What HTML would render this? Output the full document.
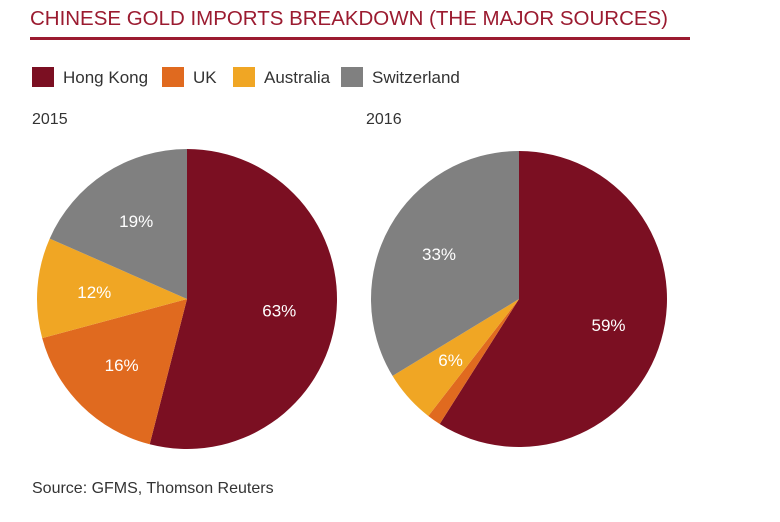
<!DOCTYPE html>
<html><head><meta charset="utf-8"><style>
body{margin:0;background:#fff;}
svg{display:block;font-family:"Liberation Sans",sans-serif;}
</style></head><body>
<svg id="chart" width="780" height="522" viewBox="0 0 780 522">
<text x="30" y="25" font-size="20" fill="#9b1b30" textLength="638" lengthAdjust="spacingAndGlyphs">CHINESE GOLD IMPORTS BREAKDOWN (THE MAJOR SOURCES)</text>
<rect x="30" y="37" width="660" height="3" fill="#9b1b30"/>
<g id="legend"></g>
<text x="32" y="124" font-size="16" fill="#333">2015</text>
<text x="366" y="124" font-size="16" fill="#333">2016</text>
<g id="pies"></g>
<text x="32" y="493" font-size="16" fill="#333">Source: GFMS, Thomson Reuters</text>
</svg>
<script>
const categories = ["Hong Kong","UK","Australia","Switzerland"];
const colors = ["#7b0f22","#e06a1f","#f0a624","#808080"];
const values2015 = [54, 16.8, 10.8, 18.4];
const values2016 = [59, 1.5, 5.8, 33.7];
const labels2015 = ["63%","16%","12%","19%"];
const labels2016 = ["59%","","6%","33%"];
const NS="http://www.w3.org/2000/svg";
const legend=document.getElementById('legend');
const legendX=[32,162,233,341];
categories.forEach((c,i)=>{
  const g=document.createElementNS(NS,'g');
  
  
  const r=document.createElementNS(NS,'rect');
  r.setAttribute('x',legendX[i]);r.setAttribute('y',67);r.setAttribute('width',22);r.setAttribute('height',20);r.setAttribute('fill',colors[i]);
  
  
  const t=document.createElementNS(NS,'text');
  t.setAttribute('x',legendX[i]+31);t.setAttribute('y',83);t.setAttribute('font-size','17');t.setAttribute('fill','#333');
  t.textContent=c;
  
  
  g.appendChild(r);g.appendChild(t);legend.appendChild(g);
});
function pt(cx,cy,r,a){return [cx+r*Math.sin(a),cy-r*Math.cos(a)];}
function drawPie(vals,labs,cx,cy,R,name,lr){
  const total=vals.reduce((a,b)=>a+b,0);
  let a0=0;
  const g=document.createElementNS(NS,'g');
  
  
  vals.forEach((v,i)=>{
    const a1=a0+v/total*2*Math.PI;
    const p0=pt(cx,cy,R,a0),p1=pt(cx,cy,R,a1);
    const large=(a1-a0)>Math.PI?1:0;
    const p=document.createElementNS(NS,'path');
    p.setAttribute('d',`M${cx},${cy}L${p0[0]},${p0[1]}A${R},${R} 0 ${large} 1 ${p1[0]},${p1[1]}Z`);
    p.setAttribute('fill',colors[i]);
    
    
    g.appendChild(p);
    if(labs[i]){
      const m=pt(cx,cy,R*lr[i],(a0+a1)/2);
      const t=document.createElementNS(NS,'text');
      t.setAttribute('x',m[0]);t.setAttribute('y',m[1]+6);t.setAttribute('text-anchor','middle');
      t.setAttribute('font-size','17');t.setAttribute('fill','#fff');
      t.textContent=labs[i];
      
      
      g.appendChild(t);
    }
    a0=a1;
  });
  document.getElementById('pies').appendChild(g);
}
drawPie(values2015,labels2015,187,299,150,'pie-2015',[0.62,0.62,0.62,0.62]);
drawPie(values2016,labels2016,519,299,148,'pie-2016',[0.63,0.62,0.62,0.62]);
</script>
</body></html>
